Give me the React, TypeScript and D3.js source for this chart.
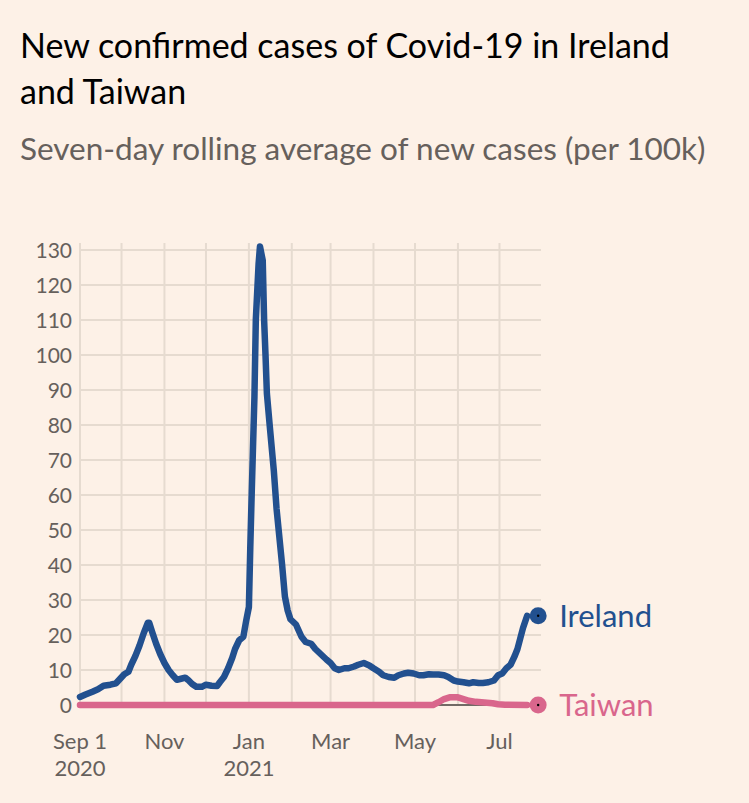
import React, { useEffect } from "react";
import * as d3 from "d3";

const irelandDates = [
  "2020-09-01", "2020-09-05", "2020-09-10", "2020-09-14", "2020-09-18", "2020-09-23", "2020-09-27", "2020-09-30",
  "2020-10-03", "2020-10-06", "2020-10-08", "2020-10-11", "2020-10-14", "2020-10-17", "2020-10-20", "2020-10-21",
  "2020-10-23", "2020-10-26", "2020-10-29", "2020-11-01", "2020-11-04", "2020-11-07", "2020-11-10", "2020-11-13",
  "2020-11-16", "2020-11-18", "2020-11-21", "2020-11-24", "2020-11-28", "2020-12-01", "2020-12-05", "2020-12-09",
  "2020-12-11", "2020-12-14", "2020-12-17", "2020-12-20", "2020-12-22", "2020-12-25", "2020-12-28", "2020-12-30",
  "2021-01-01", "2021-01-02", "2021-01-03", "2021-01-05", "2021-01-06", "2021-01-08", "2021-01-09", "2021-01-11",
  "2021-01-12", "2021-01-13", "2021-01-14", "2021-01-16", "2021-01-19", "2021-01-21", "2021-01-23", "2021-01-25",
  "2021-01-27", "2021-01-29", "2021-01-31", "2021-02-04", "2021-02-08", "2021-02-11", "2021-02-15", "2021-02-18",
  "2021-02-22", "2021-02-26", "2021-03-01", "2021-03-04", "2021-03-07", "2021-03-11", "2021-03-14", "2021-03-18",
  "2021-03-21", "2021-03-25", "2021-03-29", "2021-04-01", "2021-04-05", "2021-04-08", "2021-04-12", "2021-04-16",
  "2021-04-19", "2021-04-23", "2021-04-26", "2021-04-30", "2021-05-04", "2021-05-07", "2021-05-11", "2021-05-14",
  "2021-05-18", "2021-05-22", "2021-05-25", "2021-05-29", "2021-06-01", "2021-06-05", "2021-06-09", "2021-06-12",
  "2021-06-16", "2021-06-19", "2021-06-23", "2021-06-27", "2021-06-30", "2021-07-03", "2021-07-06", "2021-07-09",
  "2021-07-12", "2021-07-14", "2021-07-16", "2021-07-18", "2021-07-21",
];
const irelandValues = [
  2.3, 3, 3.8, 4.5, 5.5, 5.8, 6.2, 7.5,
  8.8, 9.5, 11.5, 14, 17, 20.5, 23.5, 23.5,
  21, 17.5, 14.5, 12, 10, 8.5, 7.2, 7.5,
  7.8, 7.2, 6, 5.2, 5.2, 5.8, 5.5, 5.4,
  6.5, 8, 10.5, 13.5, 16, 18.5, 19.5, 24,
  28, 45, 60, 88, 110, 126, 131, 127,
  110, 100, 89, 80, 67, 56, 48, 40,
  31, 27, 24.5, 23, 19.5, 18, 17.5, 16,
  14.5, 13, 12, 10.5, 10, 10.5, 10.5, 11,
  11.5, 12, 11.3, 10.5, 9.5, 8.5, 8, 7.8,
  8.5, 9, 9.2, 9, 8.5, 8.5, 8.8, 8.7,
  8.7, 8.5, 8, 7, 6.7, 6.5, 6.2, 6.5,
  6.3, 6.3, 6.5, 7, 8.5, 9, 10.5, 11.5,
  14, 16, 19, 22, 25.5,
];

const taiwanDates = [
  "2020-09-01", "2021-05-14", "2021-05-18", "2021-05-22", "2021-05-26", "2021-06-01", "2021-06-05",
  "2021-06-09", "2021-06-14", "2021-06-20", "2021-06-26", "2021-06-30", "2021-07-05", "2021-07-21",
];
const taiwanValues = [0, 0, 0.8, 1.7, 2.2, 2.2, 1.7, 1.2, 0.9, 0.7, 0.5, 0.2, 0.05, 0];

const yTicks = [0, 10, 20, 30, 40, 50, 60, 70, 80, 90, 100, 110, 120, 130];
const xTickDates = ["2020-09-01", "2020-11-01", "2021-01-01", "2021-03-01", "2021-05-01", "2021-07-01"];
const xTickLines1 = ["Sep 1", "Nov", "Jan", "Mar", "May", "Jul"];
const xTickLines2 = ["2020", "", "2021", "", "", ""];

const BG = "#fdf1e7";
const GRID = "#e6dbd0";
const MUTED = "#66605c";
const BLUE = "#22508f";
const PINK = "#d9668c";
const FONT = "Lato, 'Open Sans', sans-serif";

const App = () => {
  useEffect(() => {
    document.body.style.margin = "0";
    document.body.style.background = BG;
  }, []);

  const parse = d3.timeParse("%Y-%m-%d");
  const x = d3
    .scaleTime()
    .domain([parse("2020-09-01"), parse("2021-07-31")])
    .range([80, 541]);
  const y = d3.scaleLinear().domain([0, 130]).range([705, 250]);

  const gridMonths = d3.timeMonth.range(parse("2020-09-01"), parse("2021-07-02"));

  const line = d3
    .line()
    .x((d) => x(d[0]))
    .y((d) => y(d[1]))
    .curve(d3.curveLinear);

  const ireland = irelandDates.map((d, i) => [parse(d), irelandValues[i]]);
  const taiwan = taiwanDates.map((d, i) => [parse(d), taiwanValues[i]]);

  const series = [
    { name: "Ireland", data: ireland, color: BLUE },
    { name: "Taiwan", data: taiwan, color: PINK },
  ];

  return (
    <svg
      width={749}
      height={803}
      style={{ display: "block", position: "absolute", left: 0, top: 0, background: BG }}
      fontFamily={FONT}
    >
      <rect width={749} height={803} fill={BG} />
      <text x={20} y={58} fontSize={34} fill="#000">
        New confirmed cases of Covid-19 in Ireland
      </text>
      <text x={20} y={104} fontSize={34} fill="#000">
        and Taiwan
      </text>
      <text x={20} y={160} fontSize={31.5} fill={MUTED}>
        Seven-day rolling average of new cases (per 100k)
      </text>

      {/* grid */}
      {yTicks.map((t) => (
        <line key={"h" + t} x1={80} x2={541} y1={y(t)} y2={y(t)} stroke={GRID} strokeWidth={2} />
      ))}
      {gridMonths.map((m) => (
        <line key={"v" + m.getTime()} x1={x(m)} x2={x(m)} y1={243} y2={705} stroke={GRID} strokeWidth={2} />
      ))}

      {yTicks.map((t) => (
        <text key={"yl" + t} x={72} y={y(t)} dy="0.36em" textAnchor="end" fontSize={21} fill={MUTED}>
          {t}
        </text>
      ))}

      {xTickDates.map((d, i) => (
        <g key={"xl" + d} transform={`translate(${x(parse(d))},0)`}>
          <text y={749} textAnchor="middle" fontSize={22} fill={MUTED}>
            {xTickLines1[i]}
          </text>
          {xTickLines2[i] && (
            <text y={776} textAnchor="middle" fontSize={22} fill={MUTED}>
              {xTickLines2[i]}
            </text>
          )}
        </g>
      ))}

      {/* zero baseline */}
      <line x1={80} x2={530} y1={y(0)} y2={y(0)} stroke="#4a4542" strokeWidth={1.5} />

      {series.map((s) => {
        const last = s.data[s.data.length - 1];
        const cx = x(last[0]) + 11;
        const cy = y(last[1]);
        return (
          <g key={s.name}>
            <path
              d={line(s.data)}
              fill="none"
              stroke={s.color}
              strokeWidth={6.5}
              strokeLinejoin="round"
              strokeLinecap="round"
            />
            <circle cx={cx} cy={cy} r={8.5} fill={s.color} />
            <circle cx={cx} cy={cy} r={1.2} fill="#000" />
            <text x={cx + 21} y={cy} dy="0.36em" fontSize={31} fill={s.color}>
              {s.name}
            </text>
          </g>
        );
      })}
    </svg>
  );
};

export default App;
